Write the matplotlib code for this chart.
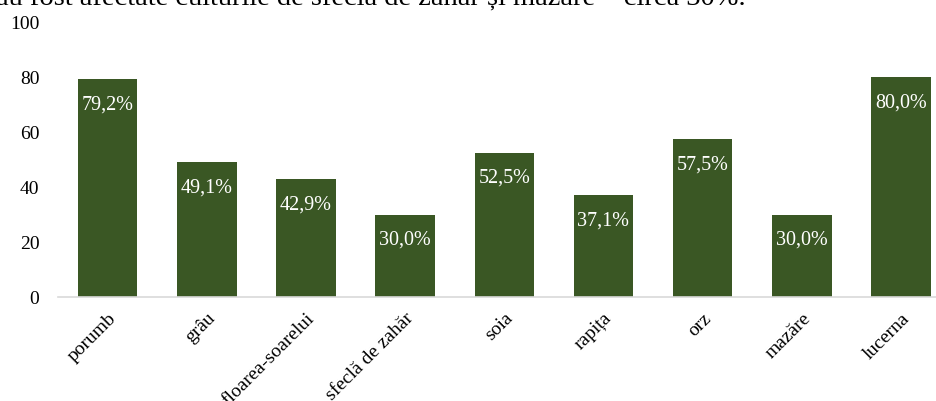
import matplotlib
matplotlib.use("Agg")
import matplotlib.pyplot as plt

plt.rcParams["font.family"] = ["Liberation Serif", "DejaVu Serif"]

culturi = ["porumb", "grâu", "floarea-soarelui", "sfeclă de zahăr", "soia",
           "rapița", "orz", "mazăre", "lucerna"]
procente = [79.2, 49.1, 42.9, 30.0, 52.5, 37.1, 57.5, 30.0, 80.0]
y_ticks = [0, 20, 40, 60, 80, 100]

bar_color = "#3a5724"

fig = plt.figure(figsize=(9.37, 4.01), dpi=100)
ax = fig.add_axes([0.0619, 0.2586, 0.9526, 0.6865])

x = list(range(len(culturi)))
bars = ax.bar(x, procente, width=0.6, color=bar_color, zorder=2)

for xi, v in zip(x, procente):
    label = f"{v:.1f}%".replace(".", ",")
    ax.annotate(label, (xi, v), xytext=(0, -18.5), textcoords="offset points",
                ha="center", va="center", color="white", fontsize=14.5)

ax.set_xlim(-0.5, len(culturi) - 0.5)
ax.set_ylim(0, 100)
ax.set_yticks(y_ticks)
ax.set_yticklabels([str(t) for t in y_ticks], fontsize=14)
ax.set_xticks(x)
ax.set_xticklabels(culturi, rotation=45, ha="right", rotation_mode="anchor",
                   fontsize=14)

ax.tick_params(axis="y", length=0, pad=13.5)
ax.tick_params(axis="x", length=0, pad=9)
for side in ("top", "right", "left"):
    ax.spines[side].set_visible(False)
ax.spines["bottom"].set_color("#d9d9d9")
ax.spines["bottom"].set_linewidth(1.2)

fig.text(-0.004, 1 - 5 / 401,
         "au fost afectate culturile de sfeclă de zahăr și mazăre – circa 30%.",
         ha="left", va="baseline", fontsize=20.5, color="black")

fig.savefig("out.png", dpi=100)
